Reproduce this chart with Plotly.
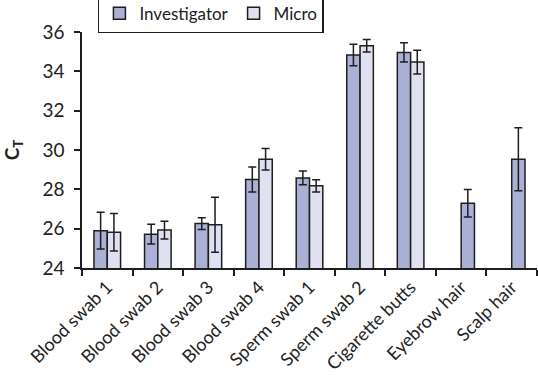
import plotly.graph_objects as go

categories = ["Blood swab 1", "Blood swab 2", "Blood swab 3", "Blood swab 4",
              "Sperm swab 1", "Sperm swab 2", "Cigarette butts", "Eyebrow hair", "Scalp hair"]
investigator = [25.9, 25.72, 26.26, 28.5, 28.58, 34.83, 34.96, 27.29, 29.53]
investigator_err = [0.93, 0.5, 0.3, 0.63, 0.35, 0.55, 0.49, 0.7, 1.6]
micro = [25.82, 25.93, 26.2, 29.53, 28.18, 35.3, 34.47, None, None]
micro_err = [0.95, 0.45, 1.4, 0.55, 0.31, 0.32, 0.6, 0, 0]

BW = 0.263
inv_offset = [-BW if m is not None else 0 for m in micro]

FONT = "Lato, 'Noto Sans', sans-serif"
line_col = "#1e1e1e"

fig = go.Figure()
fig.add_trace(go.Bar(
    x=categories, y=investigator, name="Investigator",
    width=BW, offset=inv_offset,
    marker=dict(color="#aab0d6", line=dict(color=line_col, width=1.5)),
    error_y=dict(type="data", array=investigator_err, color=line_col, thickness=1.5, width=4),
))
fig.add_trace(go.Bar(
    x=categories, y=micro, name="Micro",
    width=BW, offset=0,
    marker=dict(color="#dfe1f1", line=dict(color=line_col, width=1.5)),
    error_y=dict(type="data", array=micro_err, color=line_col, thickness=1.5, width=4),
))

fig.update_layout(
    width=538, height=375,
    margin=dict(l=82, r=1, t=32, b=107, autoexpand=False),
    paper_bgcolor="white", plot_bgcolor="white",
    font=dict(family=FONT, size=15, color="#222"),
    barmode="overlay",
    showlegend=True,
    legend=dict(orientation="h", x=0.035, y=0.995, xanchor="left", yanchor="bottom",
                bordercolor=line_col, borderwidth=1.5, bgcolor="white",
                font=dict(size=17), itemwidth=30, tracegroupgap=0),
)
fig.update_yaxes(
    range=[24, 36], dtick=2, tick0=24,
    showgrid=False, zeroline=False, automargin=False,
    showline=True, linecolor=line_col, linewidth=1.5,
    ticks="outside", ticklen=6, tickwidth=1.5, tickcolor=line_col,
    tickfont=dict(size=19), ticklabelstandoff=6,
    title=dict(text="<b>C<sub>T</sub></b>", font=dict(size=19), standoff=42),
)
fig.update_xaxes(
    showgrid=False, zeroline=False, automargin=False,
    showline=True, linecolor=line_col, linewidth=1.5,
    ticks="outside", ticklen=6, tickwidth=1.5, tickcolor=line_col,
    tickson="boundaries", tickangle=-45,
    tickfont=dict(size=18),
)

fig.write_html("out.html", config={"displayModeBar": False},
               post_script="document.body.style.margin='0';")
